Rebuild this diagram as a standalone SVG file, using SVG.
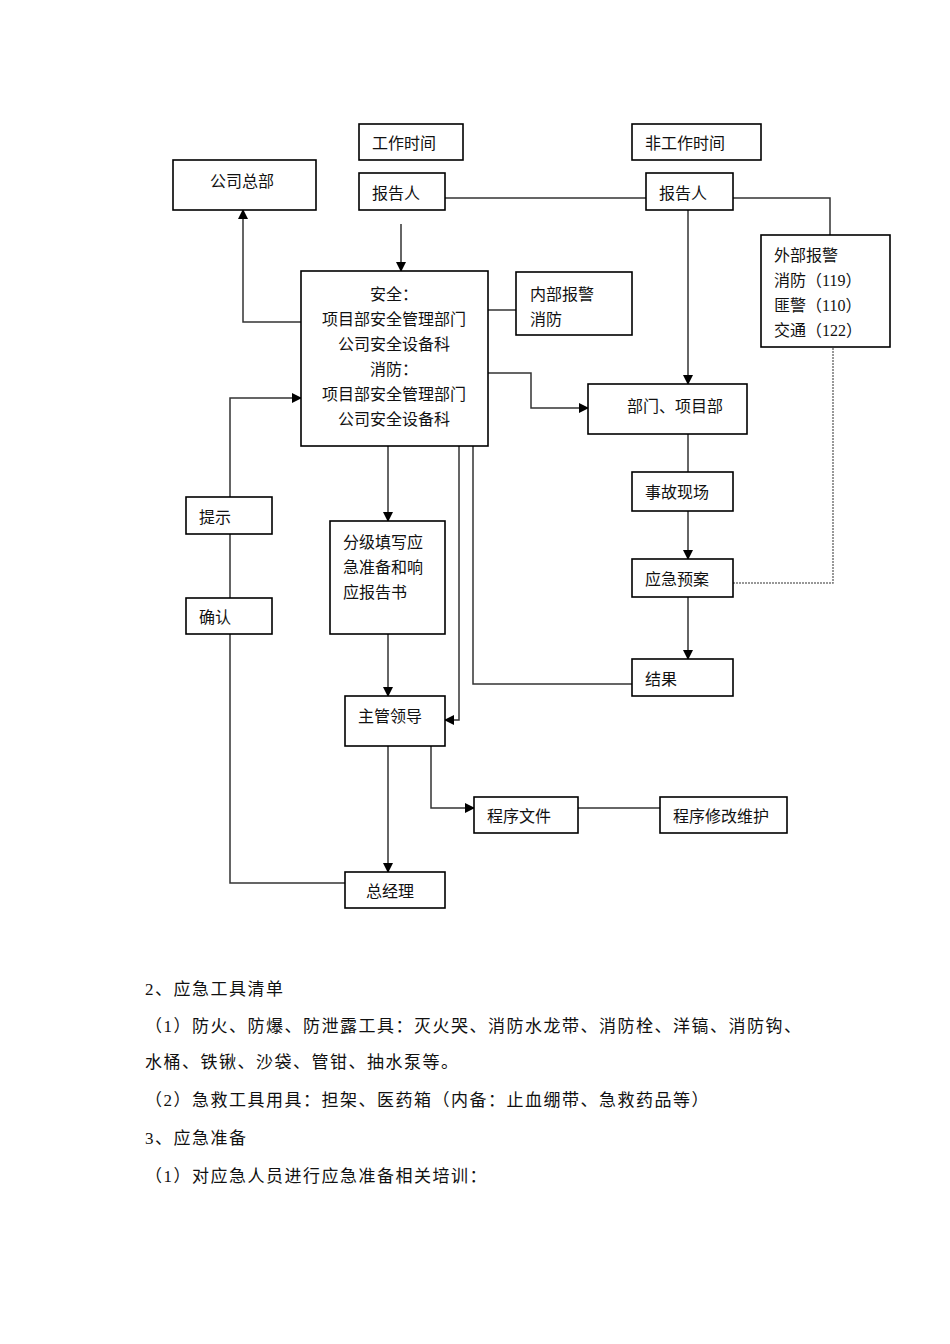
<svg xmlns="http://www.w3.org/2000/svg" width="950" height="1344" viewBox="0 0 950 1344">
<style>
.b{fill:#fff;stroke:#000;stroke-width:1.6}
.l{fill:none;stroke:#333;stroke-width:1.5}
.d{fill:none;stroke:#777;stroke-width:1.5;stroke-dasharray:2 1}
text{font-family:"Liberation Serif","Noto Sans CJK SC",serif;font-size:16px;fill:#111}
.p{font-size:17px;letter-spacing:1.5px}
</style>
<defs><marker id="a" markerWidth="10" markerHeight="10" refX="9" refY="5" orient="auto" markerUnits="userSpaceOnUse"><path d="M0,0 L10,5 L0,10 Z" fill="#000"/></marker></defs>
<rect width="950" height="1344" fill="#fff"/>
<g id="connectors">
<path class="l" d="M445,198 H646 M733,198 H830 V235"/>
<path class="l" d="M401,224 V271" marker-end="url(#a)"/>
<path class="l" d="M488,310 H516"/>
<path class="l" d="M301,322 H243 V210" marker-end="url(#a)"/>
<path class="l" d="M488,373 H531 V408 H588" marker-end="url(#a)"/>
<path class="l" d="M688,210 V384" marker-end="url(#a)"/>
<path class="l" d="M688,434 V472"/>
<path class="l" d="M688,511 V559" marker-end="url(#a)"/>
<path class="d" d="M733,583 H833 V347"/>
<path class="l" d="M688,597 V659" marker-end="url(#a)"/>
<path class="l" d="M632,684 H473 V446"/>
<path class="l" d="M459,446 V720 H445" marker-end="url(#a)"/>
<path class="l" d="M388,446 V521" marker-end="url(#a)"/>
<path class="l" d="M388,634 V696" marker-end="url(#a)"/>
<path class="l" d="M388,746 V872" marker-end="url(#a)"/>
<path class="l" d="M431,746 V808 H474" marker-end="url(#a)"/>
<path class="l" d="M578,808 H660"/>
<path class="l" d="M345,883 H230 V634 M230,534 V598"/>
<path class="l" d="M230,497 V398 H301" marker-end="url(#a)"/>
</g>
<g id="n1"><rect class="b" x="359" y="124" width="104" height="36"/><text x="372" y="149">工作时间</text></g>
<g id="n2"><rect class="b" x="632" y="124" width="129" height="36"/><text x="645" y="149">非工作时间</text></g>
<g id="n3"><rect class="b" x="173" y="160" width="143" height="50"/><text x="210" y="187">公司总部</text></g>
<g id="n4"><rect class="b" x="359" y="173" width="86" height="37"/><text x="372" y="199">报告人</text></g>
<g id="n5"><rect class="b" x="646" y="173" width="87" height="37"/><text x="659" y="199">报告人</text></g>
<g id="n6"><rect class="b" x="761" y="235" width="129" height="112"/><text x="774" y="261">外部报警</text><text x="774" y="286">消防（119）</text><text x="774" y="311">匪警（110）</text><text x="774" y="336">交通（122）</text></g>
<g id="n7"><rect class="b" x="301" y="271" width="187" height="175"/>
<text x="394" y="300" text-anchor="middle">安全：</text><text x="394" y="325" text-anchor="middle">项目部安全管理部门</text><text x="394" y="350" text-anchor="middle">公司安全设备科</text><text x="394" y="375" text-anchor="middle">消防：</text><text x="394" y="400" text-anchor="middle">项目部安全管理部门</text><text x="394" y="425" text-anchor="middle">公司安全设备科</text></g>
<g id="n8"><rect class="b" x="516" y="272" width="116" height="63"/><text x="530" y="300">内部报警</text><text x="530" y="325">消防</text></g>
<g id="n9"><rect class="b" x="588" y="384" width="159" height="50"/><text x="627" y="412">部门、项目部</text></g>
<g id="n10"><rect class="b" x="632" y="472" width="101" height="39"/><text x="645" y="498">事故现场</text></g>
<g id="n11"><rect class="b" x="632" y="559" width="101" height="38"/><text x="645" y="585">应急预案</text></g>
<g id="n12"><rect class="b" x="632" y="659" width="101" height="37"/><text x="645" y="685">结果</text></g>
<g id="n13"><rect class="b" x="186" y="497" width="86" height="37"/><text x="199" y="523">提示</text></g>
<g id="n14"><rect class="b" x="186" y="598" width="86" height="36"/><text x="199" y="623">确认</text></g>
<g id="n15"><rect class="b" x="330" y="521" width="115" height="113"/><text x="343" y="548">分级填写应</text><text x="343" y="573">急准备和响</text><text x="343" y="598">应报告书</text></g>
<g id="n16"><rect class="b" x="345" y="696" width="100" height="50"/><text x="358" y="722">主管领导</text></g>
<g id="n17"><rect class="b" x="474" y="797" width="104" height="36"/><text x="487" y="822">程序文件</text></g>
<g id="n18"><rect class="b" x="660" y="797" width="127" height="36"/><text x="673" y="822">程序修改维护</text></g>
<g id="n19"><rect class="b" x="345" y="872" width="100" height="36"/><text x="366" y="897">总经理</text></g>
<g id="body">
<text class="p" x="145" y="995">2、应急工具清单</text>
<text class="p" x="145" y="1032">（1）防火、防爆、防泄露工具：灭火哭、消防水龙带、消防栓、洋镐、消防钩、</text>
<text class="p" x="145" y="1068">水桶、铁锹、沙袋、管钳、抽水泵等。</text>
<text class="p" x="145" y="1106">（2）急救工具用具：担架、医药箱（内备：止血绷带、急救药品等）</text>
<text class="p" x="145" y="1144">3、应急准备</text>
<text class="p" x="145" y="1182">（1）对应急人员进行应急准备相关培训：</text>
</g>
</svg>
